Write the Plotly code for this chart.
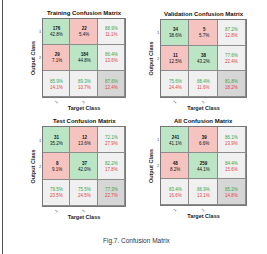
import plotly.graph_objects as go

titles = ["Training Confusion Matrix", "Validation Confusion Matrix",
          "Test Confusion Matrix", "All Confusion Matrix"]
# counts: [[out1-tgt1, out1-tgt2], [out2-tgt1, out2-tgt2]]
training = [[176, 22], [29, 184]]
validation = [[34, 5], [11, 38]]
test = [[31, 12], [8, 37]]
all_data = [[241, 39], [48, 259]]
class_labels = ["1", "2"]
caption = "Fig.7. Confusion Matrix"

mats = [training, validation, test, all_data]

W, H = 267, 254
# grid boxes in pixels (x0, x1, y0, y1) from top-left
boxes = [(43, 125, 19, 97), (161, 246, 20, 97), (43, 125, 127, 206), (161, 246, 127, 205)]

GREEN = "#bce5c6"
RED = "#f6c4c0"
GRAY = "#f0f0f0"
DARK = "#d6d6d6"
TG = "#33a852"
TR = "#e0474c"

cs = [[0, GREEN], [0.166, GREEN], [0.167, RED], [0.5, RED], [0.5, GRAY],
      [0.833, GRAY], [0.834, DARK], [1, DARK]]

fig = go.Figure()
annotations = []
layout = {}

def pct(v):
    return f"{v*100:.1f}%"

for i, (m, t, b) in enumerate(zip(mats, titles, boxes)):
    n = i + 1
    xa = "x" if n == 1 else f"x{n}"
    ya = "y" if n == 1 else f"y{n}"
    xk = "xaxis" if n == 1 else f"xaxis{n}"
    yk = "yaxis" if n == 1 else f"yaxis{n}"
    x0, x1, y0, y1 = b
    z = [[0, 1, 2], [1, 0, 2], [2, 2, 3]]
    fig.add_trace(go.Heatmap(z=z, x=[0, 1, 2], y=[0, 1, 2], colorscale=cs, zmin=0, zmax=3,
                             showscale=False, xgap=1, ygap=1, hoverinfo="skip",
                             xaxis=xa, yaxis=ya))
    layout[xk] = dict(domain=[x0 / W, x1 / W], range=[-0.5, 2.5], anchor=ya,
                      tickvals=[0, 1], ticktext=class_labels, tickangle=-45,
                      tickfont=dict(size=4, color="#444"), ticks="", showgrid=False,
                      zeroline=False, showline=True, linecolor="#777", mirror=True,
                      fixedrange=True,
                      title=dict(text="<b>Target Class</b>", font=dict(size=5.5, color="#222"), standoff=2))
    layout[yk] = dict(domain=[1 - y1 / H, 1 - y0 / H], range=[2.5, -0.5], anchor=xa,
                      tickvals=[0, 1], ticktext=class_labels,
                      tickfont=dict(size=4, color="#444"), ticks="", showgrid=False,
                      zeroline=False, showline=True, linecolor="#777", mirror=True,
                      fixedrange=True,
                      title=dict(text="<b>Output Class</b>", font=dict(size=5.5, color="#222"), standoff=3))
    total = sum(sum(r) for r in m)
    for r in range(2):
        for c in range(2):
            annotations.append(dict(x=c, y=r, xref=xa, yref=ya, showarrow=False,
                                    text=f"<b>{m[r][c]}</b><br>{pct(m[r][c]/total)}",
                                    font=dict(size=4.5, color="#111")))
    # row summaries
    for r in range(2):
        acc = m[r][r] / sum(m[r])
        annotations.append(dict(x=2, y=r, xref=xa, yref=ya, showarrow=False,
                                text=f"<span style='color:{TG}'>{pct(acc)}</span><br><span style='color:{TR}'>{pct(1-acc)}</span>",
                                font=dict(size=4.5)))
    for c in range(2):
        acc = m[c][c] / (m[0][c] + m[1][c])
        annotations.append(dict(x=c, y=2, xref=xa, yref=ya, showarrow=False,
                                text=f"<span style='color:{TG}'>{pct(acc)}</span><br><span style='color:{TR}'>{pct(1-acc)}</span>",
                                font=dict(size=4.5)))
    acc = (m[0][0] + m[1][1]) / total
    annotations.append(dict(x=2, y=2, xref=xa, yref=ya, showarrow=False,
                            text=f"<span style='color:{TG}'>{pct(acc)}</span><br><span style='color:{TR}'>{pct(1-acc)}</span>",
                            font=dict(size=4.5)))
    annotations.append(dict(x=(x0 + x1) / 2 / W, y=1 - (y0 - 1) / H, xref="paper", yref="paper",
                            showarrow=False, text=f"<b>{t}</b>", xanchor="center", yanchor="bottom",
                            font=dict(size=6, color="#111")))

annotations.append(dict(x=137 / W, y=1 - 241 / H, xref="paper", yref="paper", showarrow=False,
                        xanchor="center", yanchor="middle",
                        text=caption, font=dict(size=6.5, color="#333")))

fig.update_layout(width=W, height=H, margin=dict(l=0, r=0, t=0, b=0),
                  paper_bgcolor="white", plot_bgcolor="#8c8c8c",
                  font=dict(family="Liberation Sans, Arial, sans-serif"),
                  annotations=annotations, showlegend=False,
                  shapes=[dict(type="line", xref="paper", yref="paper", x0=2.5 / W, x1=2.5 / W,
                               y0=0, y1=1, line=dict(color="#555", width=1))],
                  **layout)

fig.write_html("out.html")
